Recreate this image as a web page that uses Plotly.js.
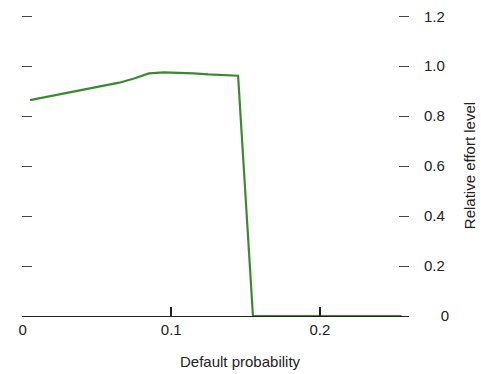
<!DOCTYPE html>
<html>
<head>
<meta charset="utf-8">
<script src="https://cdn.plot.ly/plotly-3.0.1.min.js"></script>
<style>html,body{margin:0;padding:0;background:#fff;}#chart{width:481px;height:374px;}</style>
</head>
<body>
<div id="chart"></div>
<script>
var defaultProb = [0.005, 0.015, 0.025, 0.035, 0.045, 0.055, 0.065, 0.075, 0.085, 0.095, 0.105, 0.115, 0.125, 0.135, 0.145, 0.155, 0.165, 0.175, 0.185, 0.195, 0.205, 0.215, 0.225, 0.235, 0.245, 0.255];
var effortLevel = [0.864, 0.876, 0.888, 0.899, 0.911, 0.922, 0.934, 0.951, 0.971, 0.975, 0.974, 0.971, 0.967, 0.965, 0.962, 0, 0, 0, 0, 0, 0, 0, 0, 0, 0, 0];
var yTickVals = [0, 0.2, 0.4, 0.6, 0.8, 1.0, 1.2];
var yTickText = ['\u2007\u2008 0', '0.2', '0.4', '0.6', '0.8', '1.0', '1.2'];
var xTickVals = [0, 0.1, 0.2];
var xTickText = ['0', '0.1', '0.2'];

var FONT = '"Liberation Sans", Arial, sans-serif';

var trace = {
  x: defaultProb, y: effortLevel, type: 'scatter', mode: 'lines',
  line: {color: '#3a8a2e', width: 2.2}, hoverinfo: 'skip'
};

var layout = {
  width: 481, height: 374,
  margin: {l: 22, r: 72, t: 15, b: 58},
  paper_bgcolor: '#fff', plot_bgcolor: '#fff',
  showlegend: false,
  font: {family: FONT, size: 15, color: '#222'},
  xaxis: {
    range: [-0.0004, 0.26], tickvals: xTickVals, ticktext: xTickText,
    ticks: 'inside', ticklen: 9, tickcolor: '#222', tickwidth: 1.5,
    showline: true, linecolor: '#222', linewidth: 1,
    showgrid: false, zeroline: false, layer: 'above traces',
    tickfont: {family: FONT, size: 15, color: '#222'}
  },
  yaxis: {
    side: 'right', range: [0, 1.205], tickvals: yTickVals, ticktext: yTickText,
    ticks: 'inside', ticklen: 10, tickcolor: '#444', tickwidth: 1,
    mirror: 'ticks', showline: false,
    showgrid: false, zeroline: false,
    ticklabelstandoff: 14,
    tickfont: {family: FONT, size: 15, color: '#222'},
    title: {text: 'Relative effort level', font: {family: FONT, size: 15, color: '#222'}, standoff: 16}
  },
  annotations: [{
    text: 'Default probability', xref: 'paper', yref: 'paper',
    x: (240 - 22) / 387, y: 0, yshift: -45, xanchor: 'center', yanchor: 'middle',
    showarrow: false, font: {family: FONT, size: 15, color: '#222'}
  }]
};

Plotly.newPlot('chart', [trace], layout, {displayModeBar: false, staticPlot: true});
</script>
</body>
</html>
